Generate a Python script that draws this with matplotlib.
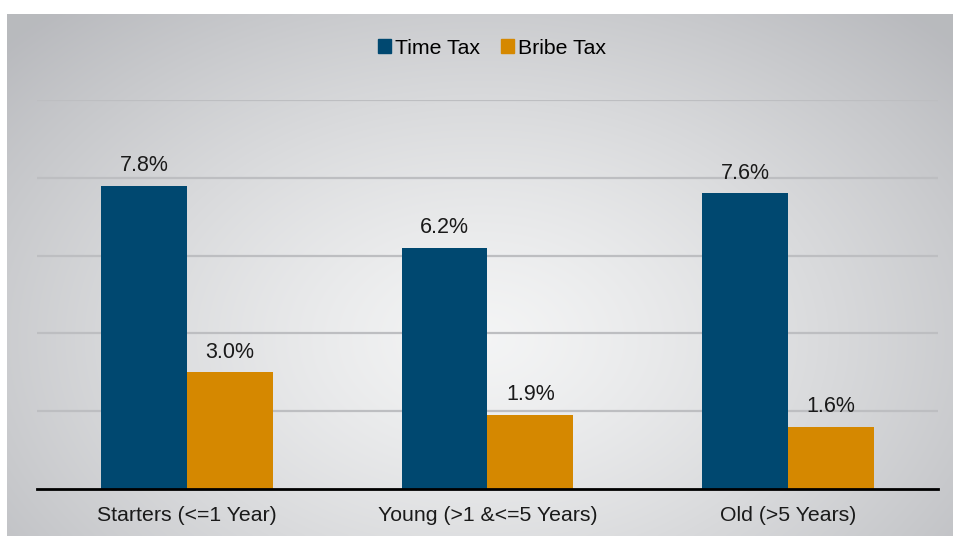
import numpy as np
import matplotlib.pyplot as plt
from matplotlib.patches import Patch

plt.rcParams['font.family'] = ['Liberation Sans', 'DejaVu Sans']

categories = ['Starters (<=1 Year)', 'Young (>1 &<=5 Years)', 'Old (>5 Years)']
time_tax = [7.8, 6.2, 7.6]
bribe_tax = [3.0, 1.9, 1.6]
series_names = ['Time Tax', 'Bribe Tax']
colors = ['#004870', '#d58800']

W, H = 954, 536
fig = plt.figure(figsize=(W / 100, H / 100), dpi=100)

# radial grey background panel
bg = fig.add_axes([7 / W, 0, (W - 7) / W, (H - 14) / H])
ny, nx = 260, 470
yy, xx = np.mgrid[0:ny, 0:nx]
dx = (xx - nx * 0.50) / (nx * 0.5)
dy = (yy - ny * 0.62) / (ny * 0.62)
r = np.sqrt(dx ** 2 + dy ** 2) / 1.35
r = np.clip(r, 0, 1) ** 1.3
c0 = np.array([0.955, 0.958, 0.960])
c1 = np.array([0.725, 0.730, 0.745])
img = c0[None, None, :] + (c1 - c0)[None, None, :] * r[..., None]
bg.imshow(img, aspect='auto', interpolation='bilinear')
bg.axis('off')

ax = fig.add_axes([37 / W, 47 / H, 901 / W, 389 / H])
ax.set_facecolor('none')
x = np.arange(len(categories))
w = 0.286
b1 = ax.bar(x - w / 2, time_tax, w, color=colors[0], zorder=3)
b2 = ax.bar(x + w / 2, bribe_tax, w, color=colors[1], zorder=3)

for bars, vals in [(b1, time_tax), (b2, bribe_tax)]:
    for rect, v in zip(bars, vals):
        ax.text(rect.get_x() + rect.get_width() / 2, v + 0.25, f'{v:.1f}%',
                ha='center', va='bottom', fontsize=15.5, color='#1a1a1a')

ax.set_xlim(-0.5, 2.5)
ax.set_ylim(0, 10)
ax.set_yticks([2, 4, 6, 8, 10])
ax.yaxis.grid(True, color='#bdbec1', linewidth=1.6, zorder=0)
ax.tick_params(axis='y', left=False, labelleft=False)
ax.tick_params(axis='x', bottom=False, labelsize=15.3, pad=9, colors='#1a1a1a')
ax.set_xticks(x)
ax.set_xticklabels(categories)
for s in ['top', 'right', 'left']:
    ax.spines[s].set_visible(False)
ax.spines['bottom'].set_linewidth(2)
ax.spines['bottom'].set_color('black')
ax.spines['bottom'].set_zorder(4)

handles = [Patch(color=c) for c in colors]
fig.legend(handles, series_names, loc='center', bbox_to_anchor=(492 / W, 1 - 48 / H),
           ncol=2, frameon=False, fontsize=15.3, handlelength=0.6, handleheight=0.6,
           handletextpad=0.2, columnspacing=1.0)

fig.savefig('out.png', dpi=100)
